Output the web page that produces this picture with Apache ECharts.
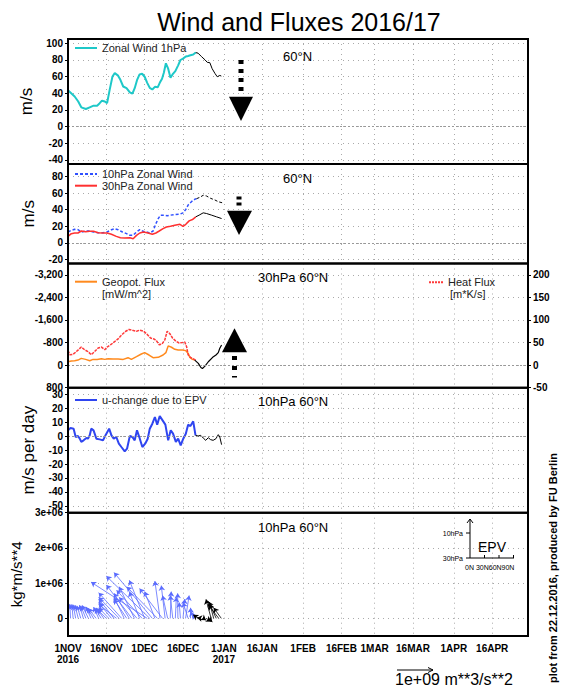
<!DOCTYPE html>
<html><head><meta charset="utf-8">
<script src="https://cdn.jsdelivr.net/npm/echarts@6/dist/echarts.min.js"></script>
<style>html,body{margin:0;padding:0;background:#fff}#c{width:566px;height:695px}</style>
</head><body><div id="c"></div>
<script>
// ---------- data ----------
const tickDays = [0,15,30,45,61,76,92,107,120,135,151,166];
const tickLabels = ['1NOV\n2016','16NOV','1DEC','16DEC','1JAN\n2017','16JAN','1FEB','16FEB','1MAR','16MAR','1APR','16APR'];

// Panel 1: zonal wind 1hPa, 60N (m/s)
const u1Days = [0,2.6,4,5.2,7,8.5,10,11.4,12.4,13.3,14.4,15.3,16.3,17.4,18.3,19.6,20.5,21.6,22.9,24.2,25.2,26.1,27,28,29,30,31,32,33,34,35.1,35.9,36.8,37.5,38.3,39.2,40.1,40.9,42,43.1,44,45,46.1,47,47.9,49,50];
const u1Vals = [43.5,36,30,23,21,23,25,25,28,31,30,28,44,60,64,61,56,48,46,41,39.5,46,55.6,62.5,63.3,59.7,52.4,46.4,44.4,47.6,47,52.4,57.3,64.5,75.8,69.4,58.5,62.5,66.5,73.4,79.8,81.5,84,84.7,85.5,86.3,88.7];
const u1FcDays = [50,50.9,52.2,53.6,54.5,55.5,56.4,57.5,58.4,59.4,60];
const u1FcVals = [88.7,88,84,80,77,76.6,69.4,63.7,59.7,61.3,60.5];

// Panel 2: zonal wind 10hPa and 30hPa
const u10Days = [0,1.3,2.6,3.9,5.2,6.9,8.5,10,11.8,13.7,15.3,17,18.3,19.6,21.3,22.9,24.2,25.5,26.8,28.1,29.4,30.7,32,33.3,34.4,35.3,36.2,37.5,38.8,40.1,41.8,43.8,45,46.1,47,48.3,49.6,50.3];
const u10Vals = [13,15,16.2,15.8,13,14.2,14.2,13,12.2,12.2,13,15.8,17,15.8,13,11,9,9,13,15.8,13.8,13,11.8,14.2,23,29.2,33.3,33.3,32.5,33.3,34.1,34.5,36.1,40.2,45.5,49.5,52.4,53.2];
const u10FcDays = [50.3,51.6,52.9,54.2,55.8,57.5,58.8,60.3];
const u10FcVals = [53.2,54.8,57.3,56.4,53.6,51.6,49.5,48.3];
const u30Days = [0,1.3,2.6,3.9,5.2,6.9,8.5,10,11.8,13.7,15.3,17,18.9,20.5,22.2,24.2,25.5,26.8,28.1,29.6,31.3,33,34.4,35.7,37.2,38.5,40.1,41.8,43.8,45,46.1,47.4,48.7,50];
const u30Vals = [7.7,11,11.8,11.8,14.2,13.4,13.8,13.8,12.2,11.8,11.8,10.2,7.7,6.1,5.7,6.1,4.9,8.9,11.8,13,11.8,10.2,11.8,14.2,17,19,19.9,21.1,22.3,19.9,22.3,26.4,28,31.3];
const u30FcDays = [50,51.3,52.9,54.2,56.2,58.1,60.1];
const u30FcVals = [31.3,33.3,36.1,35.3,33.3,31.3,29.2];

// Panel 3: 30hPa 60N geopotential flux (mW/m^2) and heat flux (m*K/s)
const geoDays = [0,1.3,2.6,3.9,5.2,6.9,8.5,9.8,11.4,13.1,14.4,15.7,17.6,19.6,21.6,23.5,24.8,26.8,28.7,30,31.7,33.3,35.3,37.2,38.3,39.2,40.5,41.8,43.1,44.8,46.1,47,47.7,48.7,49.6];
const geoVals = [-119,-143,-155,-179,-239,-203,-155,-203,-203,-227,-203,-227,-215,-215,-203,-263,-203,-298,-394,-442,-358,-263,-275,-358,-442,-681,-633,-561,-537,-537,-513,-418,-275,-203,-179];
const fluxFcDays = [49.6,51,52,52.6,53.6,54.9,56.6,57.9,58.8,59.4,60.1];
const fluxFcVals = [-179,-60,84,119,36,-119,-275,-358,-442,-597,-716];
const heatDays = [0,0.7,2,3.3,5.2,6.5,7.8,9.1,10.4,11.8,13.1,14.4,15.3,16.6,17.6,18.7,19.6,20.5,21.6,22.6,23.9,25.2,26.8,28.1,29.6,31,32.3,33.6,34.6,35.7,36.8,37.9,38.8,39.8,40.9,42.2,43.5,44.8,45.7,46.4,47,47.9,49,50];
const heatVals = [32,23,24,30,40,34,30,23,30,38,40,34,40,45,49,54,58,64,70,75,79,77,75,77.5,75,68,60,58,54,45,47,56,75,70,60,53,49,50,51,41,23,17,14,11];

// Panel 4: u-change due to EPV, 10hPa 60N (m/s per day)
const duDays = [0,1,2.2,3,3.9,4.6,5.2,6.1,7.2,7.8,8.5,9.1,10,11.1,12.4,13.7,14.8,16.1,17,17.9,18.9,19.9,20.9,22.2,23.1,24.2,25.2,26.1,27,28.1,29.1,30.2,31.2,32,33,34,34.9,35.9,37,38.1,39.2,40.2,41.1,42.2,43.1,44.1,45.1,46.1,47,47.9,49,49.9];
const duVals = [4.3,6,5.5,-0.5,0.2,-1.7,-4,-2.9,-1.2,-1.7,0.7,5.5,4.3,-1.7,-2.2,-2.9,1.2,5.5,0.7,-1.7,-0.5,-5.3,-7.7,-10.8,-8.9,0.2,-0.5,-2.9,4.3,-1.7,-7.7,-5.3,-1.7,5.5,9.1,13.9,8.4,14.6,11.5,8.4,-2.9,4.3,1.9,-4,-1.7,-6.5,-1.7,1.9,8.4,7.4,10.8,0.7];
const duFcDays = [49.9,50.9,51.9,52.9,53.9,54.9,55.8,56.8,57.9,58.8,59.4,60.1];
const duFcVals = [0.7,0.2,0.7,-1.2,-2.9,-1,-2.4,-2.9,-1.7,1.2,-0.5,-6];

// Panel 5: EP flux vectors at 10hPa 60N (base day, horizontal comp. in days, vertical comp. in kg*m/s**4)
const epvDays = [0,1,2,3,4,5,6,7,8,9,10,11,12,13,14,15,16,17,18,19,20,21,22,23,24,25,26,27,28,29,30,31,32,33,34,35,36,37,38,39,40,41,42,43,44,45,46,47,48,49,50];
const epvDx = [0,-0.3,-0.5,-1,-1.3,-1.5,-1.5,-2,-2.5,-2,-2.5,-3,-2,-2.5,-3,-3.5,-4,-5,-6,-7,-8,-9,-4,-5,-6,-10,-6,-7,-4,-10,-6,-22,-17,-15,-4,-12,-2,-9,-1.5,-2,0.4,-1,0.4,-0.1,-0.5,0.7,1.4,-2,0,-1,-1.5];
const epvDy = [400000,410000,400000,390000,380000,360000,380000,350000,370000,330000,300000,280000,320000,280000,300000,250000,300000,450000,550000,400000,600000,730000,600000,540000,710000,950000,900000,600000,750000,800000,1080000,1030000,1200000,1300000,760000,900000,1060000,850000,930000,650000,760000,650000,600000,710000,450000,550000,650000,450000,300000,200000,120000];
const epvFcDays = [51,52,53,54,55,56,57,58,59,60];
const epvFcDx = [-2,-1.5,1,2,1.5,-2,-1.5,-3,-4,-3];
const epvFcDy = [100000,20000,-50000,-80000,-100000,540000,420000,480000,380000,300000];

// ---------- layout ----------
const L = 68, W = 460;
const tops = [39, 164, 263.5, 387.7, 512.7];
const bots = [164, 263.5, 387.7, 512.7, 636];

const zip = (a, b) => a.map((x, i) => [x, b[i]]);
const vecs = (d, dx, dy) => d.map((x, i) => ({coords: [[x, 0], [x + dx[i], dy[i]]]}));

const LBL = {fontFamily: 'Liberation Sans', fontWeight: 'bold', fontSize: 10, color: '#000'};
const NAME = {fontFamily: 'Liberation Sans', fontWeight: 'normal', fontSize: 17, color: '#000'};
const GRIDLINE = {show: true, lineStyle: {color: '#aaa', width: 1, type: [1, 4]}};
const ZERO = {silent: true, symbol: 'none', label: {show: false}, animation: false,
  lineStyle: {color: '#999', width: 1, type: [2, 2]}, data: [{yAxis: 0}]};

const grids = tops.map((t, i) => ({left: L, top: t, width: W, height: bots[i] - t, show: false, outerBoundsMode: 'none', containLabel: false}));

const xAxes = tops.map((t, i) => ({
  type: 'value', gridIndex: i, min: 0, max: 180,
  axisLine: {show: false},
  axisTick: {show: false, customValues: tickDays.slice(1)},
  axisLabel: i === 4 ? {show: true, customValues: tickDays, margin: 7,
      formatter: v => tickLabels[tickDays.indexOf(v)],
      fontFamily: 'Liberation Sans', fontWeight: 'bold', fontSize: 10, lineHeight: 11, color: '#000'}
    : {show: false},
  splitLine: GRIDLINE
}));

function yAx(gi, min, max, vals, extra) {
  return Object.assign({
    type: 'value', gridIndex: gi, min: min, max: max,
    axisLine: {show: false},
    axisTick: {show: true, length: 3, customValues: vals, lineStyle: {color: '#000'}},
    axisLabel: Object.assign({customValues: vals, margin: 5}, LBL),
    splitLine: GRIDLINE
  }, extra || {});
}

const yAxes = [
  yAx(0, -45, 105, [-40,-20,0,20,40,60,80,100], {name: 'm/s', nameLocation: 'middle', nameGap: 31, nameTextStyle: NAME}),
  yAx(1, -25, 95, [-20,0,20,40,60,80], {name: 'm/s', nameLocation: 'middle', nameGap: 31, nameTextStyle: NAME}),
  yAx(2, -3600, 800, [-3200,-2400,-1600,-800,0,800], {inverse: true}),
  yAx(2, -50, 225, [-50,0,50,100,150,200], {position: 'right', splitLine: {show: false}}),
  yAx(3, -55, 35, [-50,-40,-30,-20,-10,0,10,20,30], {name: 'm/s per day', nameLocation: 'middle', nameGap: 31, nameTextStyle: NAME}),
  yAx(4, -500000, 3000000, [0,1000000,2000000,3000000], {name: 'kg*m/s**4', nameLocation: 'middle', nameGap: 44,
    nameTextStyle: Object.assign({}, NAME, {fontSize: 15})})
];
yAxes[5].axisLabel.formatter = v => v === 0 ? '0' : (v / 1e6) + 'e+06';

function line(name, xi, yi, data, color, width, type, extra) {
  return Object.assign({
    name: name, type: 'line', xAxisIndex: xi, yAxisIndex: yi, data: data,
    symbol: 'none', showSymbol: false, animation: false, silent: true,
    lineStyle: {color: color, width: width, type: type || 'solid'},
    itemStyle: {color: color}
  }, extra || {});
}

const series = [
  line('Zonal Wind 1hPa', 0, 0, zip(u1Days, u1Vals), '#1ec8c8', 2, 'solid', {markLine: ZERO}),
  line('fc1', 0, 0, zip(u1FcDays, u1FcVals), '#000', 1),
  line('10hPa Zonal Wind', 1, 1, zip(u10Days, u10Vals), '#3050ff', 1.5, [3, 2], {markLine: ZERO}),
  line('30hPa Zonal Wind', 1, 1, zip(u30Days, u30Vals), '#ff3030', 1.5),
  line('fc10', 1, 1, zip(u10FcDays, u10FcVals), '#000', 1, [3, 2]),
  line('fc30', 1, 1, zip(u30FcDays, u30FcVals), '#000', 1),
  line('Geopot. Flux', 2, 2, zip(geoDays, geoVals), '#ff8a1e', 1.5, 'solid', {markLine: ZERO}),
  line('Heat Flux', 2, 3, zip(heatDays, heatVals), '#ff3a3a', 1.5, [3, 1]),
  line('fcFlux', 2, 2, zip(fluxFcDays, fluxFcVals), '#000', 1.2),
  line('u-change due to EPV', 3, 4, zip(duDays, duVals), '#2f45f0', 2, 'solid', {markLine: ZERO}),
  line('fcDu', 3, 4, zip(duFcDays, duFcVals), '#000', 1),
  {name: 'EPV', type: 'lines', coordinateSystem: 'cartesian2d', xAxisIndex: 4, yAxisIndex: 5,
   data: vecs(epvDays, epvDx, epvDy), symbol: ['none', 'arrow'], symbolSize: 5, animation: false, silent: true,
   lineStyle: {color: '#5b6cff', width: 0.8, opacity: 1}},
  {name: 'EPV forecast', type: 'lines', coordinateSystem: 'cartesian2d', xAxisIndex: 4, yAxisIndex: 5,
   data: vecs(epvFcDays, epvFcDx, epvFcDy), symbol: ['none', 'arrow'], symbolSize: 5, animation: false, silent: true,
   lineStyle: {color: '#000', width: 0.8, opacity: 1}}
];

const LEG = {fontFamily: 'Liberation Sans', fontSize: 11, color: '#222'};
const DASH22 = 'path://M0,0h3v2h-3zM5,0h3v2h-3zM10,0h3v2h-3zM15,0h3v2h-3zM20,0h2v2h-2z';
const DASH14 = 'path://M0,0h2v2h-2zM3,0h2v2h-2zM6,0h2v2h-2zM9,0h2v2h-2zM12,0h2v2h-2z';
function leg(name, left, lineY, icon, w) {
  return {data: [{name: name, icon: icon}], left: left, top: lineY - 6.5, padding: 0, itemWidth: w || 22, itemHeight: 2,
    selectedMode: false, textStyle: LEG};
}
const legends = [
  leg('Zonal Wind 1hPa', 75, 49, 'rect'),
  leg('10hPa Zonal Wind', 75, 175, DASH22),
  leg('30hPa Zonal Wind', 75, 186.7, 'rect'),
  leg('Geopot. Flux', 75, 282.7, 'rect'),
  leg('Heat Flux', 429, 283.3, DASH14, 14),
  leg('u-change due to EPV', 75, 401, 'rect')
];

function txt(x, y, s, font, extra) {
  return Object.assign({type: 'text', x: x, y: y, z: 50,
    style: Object.assign({text: s, font: font, fill: '#000', align: 'left', verticalAlign: 'middle'}, (extra && extra.style) || {})},
    extra && extra.rotation ? {rotation: extra.rotation} : {});
}
const F13 = "13px 'Liberation Sans'";
const black = {fill: '#000'};
const graphics = [
  txt(283, 56, '60°N', F13), txt(283, 178, '60°N', F13), txt(258, 277, '30hPa 60°N', F13),
  txt(258, 401, '10hPa 60°N', F13), txt(258, 527, '10hPa 60°N', F13),
  txt(102, 294, '[mW/m^2]', "11px 'Liberation Sans'", {style: {fill: '#222'}}),
  txt(450, 294, '[m*K/s]', "11px 'Liberation Sans'", {style: {fill: '#222'}}),
  // big arrows
  {type: 'line', z: 50, shape: {x1: 241, y1: 60, x2: 241, y2: 93}, style: {stroke: '#000', lineWidth: 5, lineDash: [4, 5]}},
  {type: 'polygon', z: 50, shape: {points: [[229, 96.7], [253, 96.7], [241, 121]]}, style: black},
  {type: 'line', z: 50, shape: {x1: 239, y1: 196.5, x2: 239, y2: 207}, style: {stroke: '#000', lineWidth: 5, lineDash: [3, 3]}},
  {type: 'polygon', z: 50, shape: {points: [[227, 210.7], [252, 210.7], [239, 235]]}, style: black},
  {type: 'polygon', z: 50, shape: {points: [[222, 352.3], [247, 352.3], [234.5, 328.3]]}, style: black},
  {type: 'line', z: 50, shape: {x1: 234.5, y1: 356, x2: 234.5, y2: 377.5}, style: {stroke: '#000', lineWidth: 5, lineDash: [4, 6]}},
  // EPV inset
  {type: 'line', z: 50, shape: {x1: 470, y1: 558, x2: 470, y2: 519}, style: {stroke: '#000', lineWidth: 1}},
  {type: 'polyline', z: 50, shape: {points: [[467, 523], [470, 519], [473, 523]]}, style: {stroke: '#000', lineWidth: 1, fill: null}},
  {type: 'line', z: 50, shape: {x1: 466, y1: 533, x2: 470, y2: 533}, style: {stroke: '#000', lineWidth: 1}},
  {type: 'line', z: 50, shape: {x1: 466, y1: 558, x2: 514, y2: 558}, style: {stroke: '#000', lineWidth: 1}},
  {type: 'line', z: 50, shape: {x1: 484.5, y1: 555, x2: 484.5, y2: 558}, style: {stroke: '#000', lineWidth: 1}},
  {type: 'line', z: 50, shape: {x1: 499, y1: 555, x2: 499, y2: 558}, style: {stroke: '#000', lineWidth: 1}},
  {type: 'line', z: 50, shape: {x1: 513.5, y1: 555, x2: 513.5, y2: 558}, style: {stroke: '#000', lineWidth: 1}},
  txt(463, 533, '10hPa', "7px 'Liberation Sans'", {style: {align: 'right'}}),
  txt(463, 558, '30hPa', "7px 'Liberation Sans'", {style: {align: 'right'}}),
  txt(465, 567, '0N 30N60N90N', "7px 'Liberation Sans'"),
  txt(478, 547, 'EPV', "14px 'Liberation Sans'"),
  // reference vector
  {type: 'line', z: 50, shape: {x1: 397, y1: 670, x2: 433, y2: 670}, style: {stroke: '#000', lineWidth: 1}},
  {type: 'polyline', z: 50, shape: {points: [[428, 667.5], [433, 670], [428, 672.5]]}, style: {stroke: '#000', lineWidth: 1, fill: null}},
  txt(395, 679, '1e+09 m**3/s**2', "16px 'Liberation Sans'"),
  // credit
  txt(553, 568, 'plot from 22.12.2016, produced by FU Berlin', "bold 11px 'Liberation Sans'", {rotation: Math.PI / 2, style: {align: 'center'}})
];
// panel frames
tops.forEach((t, i) => graphics.push({type: 'rect', z: 100, silent: true,
  shape: {x: L, y: t, width: W, height: bots[i] - t}, style: {fill: null, stroke: '#000', lineWidth: 2}}));

const chart = echarts.init(document.getElementById('c'), null, {renderer: 'svg'});
chart.setOption({
  animation: false,
  backgroundColor: '#fff',
  title: {text: 'Wind and Fluxes 2016/17', left: 294, top: 4, textAlign: 'center',
    textStyle: {fontFamily: 'Liberation Sans', fontWeight: 'normal', fontSize: 25, color: '#000'}},
  grid: grids, xAxis: xAxes, yAxis: yAxes, legend: legends, series: series, graphic: graphics
});
</script></body></html>
